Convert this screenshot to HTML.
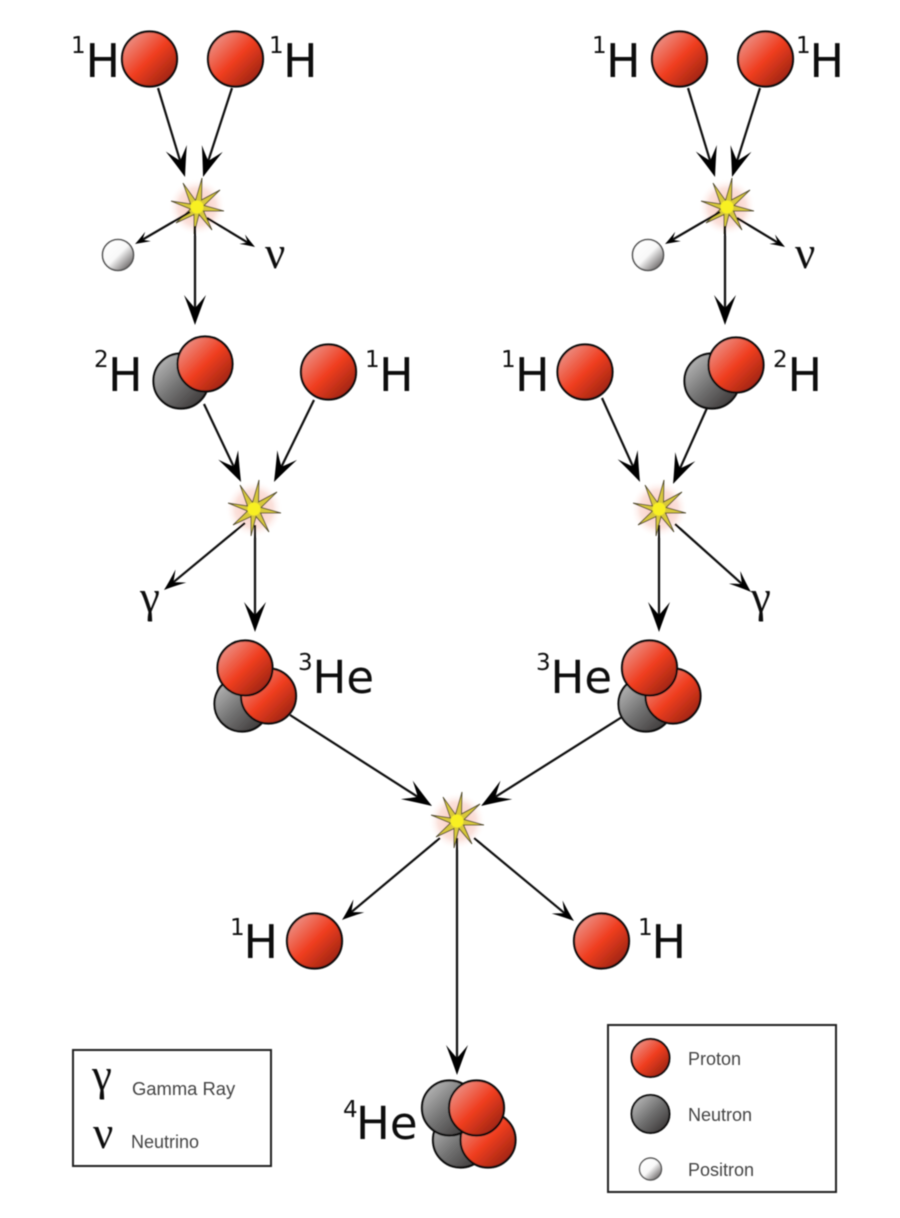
<!DOCTYPE html>
<html>
<head>
<meta charset="utf-8">
<style>
html,body{margin:0;padding:0;background:#fff;width:900px;height:1218px;overflow:hidden}
svg{display:block}
.l{font-family:"DejaVu Sans",sans-serif;font-size:46px;fill:#111}
.h{font-family:"DejaVu Sans",sans-serif;font-size:45px;fill:#111}
.s{font-family:"DejaVu Sans",sans-serif;font-size:23px;fill:#111}
.g{font-family:"Liberation Serif",serif;font-size:45px;fill:#111}
.t{font-family:"Liberation Sans",sans-serif;font-size:18px;fill:#444}
.a{stroke:#111;stroke-width:2.2;fill:none}
</style>
</head>
<body>
<svg width="900" height="1218" viewBox="0 0 900 1218" xmlns="http://www.w3.org/2000/svg">
<defs>
<linearGradient id="pg" x1="0.12" y1="0.12" x2="0.88" y2="0.88">
<stop offset="0" stop-color="#ec8f84"/><stop offset="0.5" stop-color="#f03e20"/><stop offset="1" stop-color="#9c2412"/>
</linearGradient>
<linearGradient id="ng" x1="0.12" y1="0.12" x2="0.88" y2="0.88">
<stop offset="0" stop-color="#b4b4b4"/><stop offset="0.5" stop-color="#727272"/><stop offset="1" stop-color="#3e3a3a"/>
</linearGradient>
<linearGradient id="eg" x1="0.12" y1="0.12" x2="0.88" y2="0.88">
<stop offset="0" stop-color="#fff"/><stop offset="0.5" stop-color="#f8f8f8"/><stop offset="1" stop-color="#6e6a6a"/>
</linearGradient>
<radialGradient id="glow">
<stop offset="0" stop-color="#f4a898" stop-opacity="0.75"/><stop offset="0.65" stop-color="#f8c4b8" stop-opacity="0.5"/><stop offset="1" stop-color="#fff" stop-opacity="0"/>
</radialGradient>
<marker id="big" markerUnits="userSpaceOnUse" markerWidth="36" markerHeight="28" viewBox="-33 -14 36 28" refX="-8" refY="0" orient="auto">
<path d="M0,0 Q-13,-4.500 -30,-11 Q-22,-4.500 -17,0 Q-22,4.500 -30,11 Q-13,4.500 0,0 Z" fill="#000"/>
</marker>
<marker id="med" markerUnits="userSpaceOnUse" markerWidth="28" markerHeight="22" viewBox="-25 -11 28 22" refX="-6" refY="0" orient="auto">
<path d="M0,0 Q-9,-3 -22,-8.500 Q-16,-3 -12,0 Q-16,3 -22,8.500 Q-9,3 0,0 Z" fill="#000"/>
</marker>
<marker id="sm" markerUnits="userSpaceOnUse" markerWidth="20" markerHeight="14" viewBox="-18 -7 20 14" refX="-4" refY="0" orient="auto">
<path d="M0,0 Q-6,-2 -15,-5.500 Q-11,-2 -8.500,0 Q-11,2 -15,5.500 Q-6,2 0,0 Z" fill="#000"/>
</marker>
<g id="p"><circle r="27.5" fill="url(#pg)" stroke="#111" stroke-width="2.2"/></g>
<g id="n"><circle r="27.5" fill="url(#ng)" stroke="#111" stroke-width="2.2"/></g>
<g id="e"><circle r="15.5" fill="url(#eg)" stroke="#555" stroke-width="1.6"/></g>
<g id="star">
<circle r="29" fill="url(#glow)"/>
<polygon points="5,-29 4.500,-7 23,-17 7,-1.500 27,4 6.500,4 15,23 2,7.500 -3,27 -3,7.500 -21,16 -6.500,2 -26,-6 -6.500,-3 -14,-24 -1.500,-6.500" fill="#d8c83a" stroke="#5c5636" stroke-width="1"/>
<circle r="6.5" fill="#f8f020"/>
</g>
<filter id="b" x="-2%" y="-2%" width="104%" height="104%"><feGaussianBlur stdDeviation="0.55"/></filter>
</defs>
<rect width="900" height="1218" fill="#fff"/>
<g filter="url(#b)">
<!-- stars -->
<use href="#star" x="197" y="207"/>
<use href="#star" x="727" y="207"/>
<use href="#star" x="254" y="509"/>
<use href="#star" x="659" y="509"/>
<use href="#star" x="457" y="821"/>

<!-- arrows -->
<line class="a" x1="158" y1="88" x2="182.7" y2="169.3" marker-end="url(#big)"/>
<line class="a" x1="232" y1="88" x2="205.5" y2="169.4" marker-end="url(#big)"/>
<line class="a" x1="190" y1="212" x2="138.5" y2="242" marker-end="url(#sm)"/>
<line class="a" x1="207" y1="218" x2="251.6" y2="244.9" marker-end="url(#sm)"/>
<line class="a" x1="195" y1="226" x2="195" y2="317" marker-end="url(#big)"/>

<line class="a" x1="688" y1="88" x2="712.7" y2="169.3" marker-end="url(#big)"/>
<line class="a" x1="760" y1="88" x2="734.4" y2="169.4" marker-end="url(#big)"/>
<line class="a" x1="720" y1="212" x2="668.5" y2="242" marker-end="url(#sm)"/>
<line class="a" x1="737" y1="218" x2="781.6" y2="244.9" marker-end="url(#sm)"/>
<line class="a" x1="725" y1="226" x2="725" y2="317" marker-end="url(#big)"/>

<line class="a" x1="204" y1="404" x2="237.6" y2="474.8" marker-end="url(#big)"/>
<line class="a" x1="314" y1="400" x2="277.5" y2="474.8" marker-end="url(#big)"/>
<line class="a" x1="245" y1="523" x2="168.6" y2="586.2" marker-end="url(#med)"/>
<line class="a" x1="255" y1="525" x2="255" y2="624" marker-end="url(#big)"/>

<line class="a" x1="602" y1="398" x2="636.7" y2="474.7" marker-end="url(#big)"/>
<line class="a" x1="707" y1="408" x2="676.3" y2="476.7" marker-end="url(#big)"/>
<line class="a" x1="675" y1="524" x2="746.5" y2="588" marker-end="url(#med)"/>
<line class="a" x1="659" y1="525" x2="659" y2="624" marker-end="url(#big)"/>

<line class="a" x1="290" y1="715" x2="425.3" y2="801.7" marker-end="url(#big)"/>
<line class="a" x1="622" y1="717" x2="487.8" y2="801.7" marker-end="url(#big)"/>
<line class="a" x1="440" y1="838" x2="346.6" y2="916.1" marker-end="url(#med)"/>
<line class="a" x1="474" y1="838" x2="569.4" y2="917.2" marker-end="url(#med)"/>
<line class="a" x1="457" y1="838" x2="457" y2="1067" marker-end="url(#big)"/>

<!-- particles -->
<use href="#p" x="149.500" y="59"/>
<use href="#p" x="235.500" y="59"/>
<use href="#p" x="679.500" y="59"/>
<use href="#p" x="765.500" y="59"/>
<use href="#e" x="118" y="255"/>
<use href="#e" x="648" y="255"/>

<use href="#n" x="181" y="381"/>
<use href="#p" x="205" y="364"/>
<use href="#p" x="328.500" y="372"/>
<use href="#p" x="585" y="372"/>
<use href="#n" x="712" y="381"/>
<use href="#p" x="736" y="365"/>

<use href="#n" x="242" y="704"/>
<use href="#p" x="268.500" y="696"/>
<use href="#p" x="245" y="668"/>
<use href="#n" x="646" y="704"/>
<use href="#p" x="673" y="696"/>
<use href="#p" x="649.500" y="668"/>

<use href="#p" x="314.500" y="941"/>
<use href="#p" x="601.500" y="941"/>

<use href="#n" x="460.500" y="1140"/>
<use href="#p" x="488" y="1140"/>
<use href="#n" x="449.500" y="1108"/>
<use href="#p" x="476.500" y="1108"/>

<!-- labels -->
<text class="s" x="71" y="53">1</text><text class="l" x="85.500" y="77">H</text>
<text class="s" x="269" y="53">1</text><text class="l" x="283" y="77">H</text>
<text class="s" x="592" y="53">1</text><text class="l" x="606" y="77">H</text>
<text class="s" x="796" y="53">1</text><text class="l" x="809.500" y="77">H</text>

<text class="s" x="94" y="367">2</text><text class="l" x="108" y="391">H</text>
<text class="s" x="365" y="367">1</text><text class="l" x="379" y="391">H</text>
<text class="s" x="501" y="367">1</text><text class="l" x="515" y="391">H</text>
<text class="s" x="773" y="367">2</text><text class="l" x="787.500" y="391">H</text>

<text class="s" x="298" y="670">3</text><text class="h" x="312.500" y="693">He</text>
<text class="s" x="536" y="670">3</text><text class="h" x="550.500" y="693">He</text>

<text class="s" x="230" y="935">1</text><text class="l" x="243.500" y="958">H</text>
<text class="s" x="638" y="935">1</text><text class="l" x="651.500" y="958">H</text>

<text class="s" x="343" y="1117">4</text><text class="h" x="356" y="1139">He</text>

<text class="g" x="140" y="612">γ</text>
<text class="g" x="751" y="612">γ</text>
<text class="g" x="265" y="268">ν</text>
<text class="g" x="795" y="268">ν</text>

<!-- legend left -->
<rect x="73" y="1050" width="198" height="116" fill="none" stroke="#222" stroke-width="2"/>
<text class="g" x="92" y="1090">γ</text>
<text class="g" x="93" y="1148">ν</text>
<text class="t" x="132" y="1095" style="font-size:18.4px">Gamma Ray</text>
<text class="t" x="131" y="1148">Neutrino</text>

<!-- legend right -->
<rect x="608" y="1025" width="228" height="167" fill="none" stroke="#222" stroke-width="2"/>
<circle cx="650.500" cy="1058" r="19" fill="url(#pg)" stroke="#111" stroke-width="2"/>
<circle cx="650.500" cy="1114" r="19" fill="url(#ng)" stroke="#111" stroke-width="2"/>
<circle cx="650.500" cy="1169" r="11" fill="url(#eg)" stroke="#555" stroke-width="1.4"/>
<text class="t" x="688" y="1065">Proton</text>
<text class="t" x="688" y="1121">Neutron</text>
<text class="t" x="688" y="1176">Positron</text>
</g>
</svg>
</body>
</html>
